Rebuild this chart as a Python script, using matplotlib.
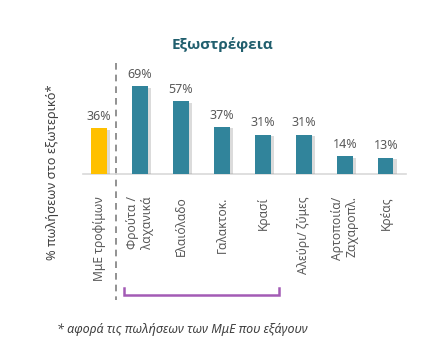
import matplotlib
matplotlib.use("Agg")
import matplotlib.pyplot as plt
import matplotlib.patheffects as pe
from matplotlib.transforms import blended_transform_factory

categories = ["ΜμΕ τροφίμων", "Φρούτα /\nλαχανικά", "Ελαιόλαδο", "Γαλακτοκ.", "Κρασί",
              "Αλεύρι/ ζύμες", "Αρτοποιία/\nΖαχαροπλ.", "Κρέας"]
values = [36, 69, 57, 37, 31, 31, 14, 13]
colors = ["#FFC000"] + ["#31849B"] * 7

TXT = "#595959"
TITLE = "#215F6E"
PURPLE = "#A35BB5"

plt.rcParams["font.family"] = ["Noto Sans", "DejaVu Sans"]

fig = plt.figure(figsize=(4.26, 3.56), dpi=100)
fig.patch.set_facecolor("white")
ax = fig.add_axes([0.194, 0.511, 0.760, 0.2865])

x = list(range(len(values)))
bars = ax.bar(x, values, width=0.37, color=colors, zorder=3)
for b in bars:
    b.set_path_effects([pe.SimplePatchShadow(offset=(2.5, -1), shadow_rgbFace="#9a9a9a", alpha=0.35),
                        pe.Normal()])

for xi, v in zip(x, values):
    ax.text(xi, v + 4, f"{v}%", ha="center", va="bottom", fontsize=9, color=TXT)

ax.set_xlim(-0.4, 7.5)
ax.set_ylim(0, 80)
ax.set_yticks([])
ax.set_xticks(x)
ax.set_xticklabels(categories, rotation=90, fontsize=8.7, color=TXT, va="top", ha="center",
                   multialignment="right")
ax.tick_params(axis="x", length=0, pad=16)
for s in ["top", "right", "left"]:
    ax.spines[s].set_visible(False)
ax.spines["bottom"].set_color("#d9d9d9")
ax.spines["bottom"].set_linewidth(1.2)

# dashed separator between total and sectors
tr = blended_transform_factory(ax.transData, fig.transFigure)
ax.plot([0.42, 0.42], [1 - 63 / 356, 1 - 300 / 356], transform=tr, color="#7f7f7f",
        linestyle=(0, (4, 3)), linewidth=1.2, clip_on=False)

# bracket under the first four sectors
yb, yt = 1 - 295 / 356, 1 - 288 / 356
ax.plot([0.6, 0.6, 4.38, 4.38], [yt, yb, yb, yt], transform=tr, color=PURPLE,
        linewidth=1.8, clip_on=False, solid_joinstyle="miter")

fig.text(0.523, 1 - 45 / 356, "Εξωστρέφεια", ha="center", va="center", fontsize=11,
         fontweight="bold", color=TITLE, family=["Open Sans", "DejaVu Sans"])
fig.text(53 / 426, 1 - 172 / 356, "% πωλήσεων στο εξωτερικό*", rotation=90, ha="center",
         va="center", fontsize=9.2, color="#404040")
fig.text(57 / 426, 1 - 329 / 356, "* αφορά τις πωλήσεων των ΜμΕ που εξάγουν", ha="left",
         va="center", fontsize=9, style="italic", color="#404040")

fig.savefig("out.png", dpi=100, facecolor="white")
